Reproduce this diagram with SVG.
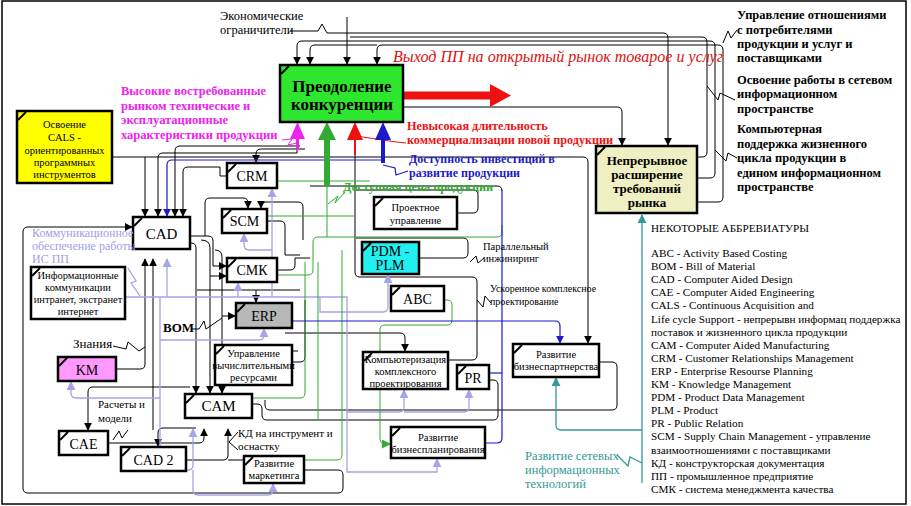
<svg xmlns="http://www.w3.org/2000/svg" width="911" height="506" viewBox="0 0 911 506">
<defs>
<style>
text{font-family:"Liberation Serif","DejaVu Serif",serif}
.b{font-weight:bold}
.c{text-anchor:middle}
.box{stroke:#000;stroke-width:2.5;fill:#fff}
.tk{stroke:#000;stroke-width:2}
.k{fill:none;stroke:#000;stroke-width:1}
.lv{fill:none;stroke:#a4a4e6;stroke-width:1.3}
.g{fill:none;stroke:#33aa33;stroke-width:1}
.bl{fill:none;stroke:#1a1acc;stroke-width:1.2}
.tl{fill:none;stroke:#339999;stroke-width:1.3}
.s10{font-size:10.5px}
.s14{font-size:14px}
.s15{font-size:15px}
.lbl{font-weight:bold}
.abr{font-size:11.2px}
</style>
<marker id="ak" viewBox="0 0 10 10" refX="9" refY="5" markerWidth="8" markerHeight="9" orient="auto" markerUnits="userSpaceOnUse"><path d="M0,0 L10,5 L0,10 z" fill="#000"/></marker>
<marker id="al" viewBox="0 0 10 10" refX="9" refY="5" markerWidth="9" markerHeight="9" orient="auto" markerUnits="userSpaceOnUse"><path d="M0,0 L10,5 L0,10 z" fill="#a4a4e6"/></marker>
<marker id="ab" viewBox="0 0 10 10" refX="9" refY="5" markerWidth="8" markerHeight="9" orient="auto" markerUnits="userSpaceOnUse"><path d="M0,0 L10,5 L0,10 z" fill="#1a1acc"/></marker>
<marker id="ag" viewBox="0 0 10 10" refX="9" refY="5" markerWidth="9" markerHeight="9" orient="auto" markerUnits="userSpaceOnUse"><path d="M0,0 L10,5 L0,10 z" fill="#33aa33"/></marker>
<marker id="at" viewBox="0 0 10 10" refX="9" refY="5" markerWidth="9" markerHeight="9" orient="auto" markerUnits="userSpaceOnUse"><path d="M0,0 L10,5 L0,10 z" fill="#339999"/></marker>
</defs>
<rect x="0" y="0" width="911" height="506" fill="#fff"/>
<rect x="2" y="1" width="904" height="503" fill="none" stroke="#000" stroke-width="1.5"/>

<g id="connectors">
<path class="k" d="M290,31 L318,31 L322,24 L327,33 L347,33"/>
<path class="k" d="M347,17 V64" marker-end="url(#ak)"/>
<path class="k" d="M347,33 H663 Q668,33 668,38 V145" marker-end="url(#ak)"/>
<path class="k" d="M350,37 H702 Q707,37 707,42 V152 Q707,157 702,157 H698"/>
<path class="k" d="M350,41 H710 Q715,41 715,46 V173 Q715,178 710,178 H698"/>
<path class="k" d="M698,202 H718 Q723,202 723,197 V50 Q723,45 718,45 H382 Q377,45 377,50 V64" marker-end="url(#ak)"/>
<path class="k" d="M350,41 H302 Q297,41 297,46 V64" marker-end="url(#ak)"/>
<path class="k" d="M377,45 H315 Q310,45 310,50 V64" marker-end="url(#ak)"/>
<path class="k" d="M403,107 H617 Q622,107 622,112 V145" marker-end="url(#ak)"/>
<path class="k" d="M723,43 L728,31 L731,38 L737,30"/>
<path class="k" d="M707,86 L718,100 L720,93 L735,100"/>
<path class="k" d="M715,150 L726,161 L728,153 L737,158"/>
<path class="k" d="M112,157 H583 Q588,157 588,162 V343" marker-end="url(#ak)"/>
<path class="k" d="M145,157 V216" marker-end="url(#ak)"/>
<path class="k" d="M297,148 V153 H163 Q158,153 158,158 V216" marker-end="url(#ak)"/>
<path class="k" d="M300,146 H180 Q175,146 175,151 V216" marker-end="url(#ak)"/>
<path class="k" d="M227,176 H220 V167 H188 Q183,167 183,172 V216" marker-end="url(#ak)"/>
<path class="k" d="M305,149 H261 Q256,149 256,154 V162" marker-end="url(#ak)"/>
<path class="k" d="M190,243 H191 Q196,243 196,248 V393" marker-end="url(#ak)"/>
<path class="k" d="M190,236 H208 Q213,236 213,241 V266 H226" marker-end="url(#ak)"/>
<path class="k" d="M201,240 Q210,240 210,248 V393" marker-end="url(#ak)"/>
<path class="k" d="M210,276 H226" marker-end="url(#ak)"/>
<path class="k" d="M215,250 Q222,250 222,257 V393" marker-end="url(#ak)"/>
<path class="k" d="M222,316 H235" marker-end="url(#ak)"/>
<path class="k" d="M205,236 V203 Q205,198 210,198 H243 Q248,198 248,203 V208" marker-end="url(#ak)"/>
<path class="k" d="M303,240 V207 Q303,202 298,202 H266 Q261,202 261,207 V208" marker-end="url(#ak)"/>
<path class="k" d="M267,221 H280 Q285,221 285,226 V255 H300"/>
<path class="k" d="M277,270 H290 Q295,270 295,265 V258 H310"/>
<path class="k" d="M197,290 H300"/>
<path class="k" d="M256,290 V302" marker-end="url(#ak)"/>
<path class="k" d="M191,329 H199 L204,321 L206,329 L222,318"/>
<path class="k" d="M292,362 H300 Q305,362 305,357 V300"/>
<path class="k" d="M228,351 H298"/>
<path class="k" d="M116,369 H140 Q145,369 145,364 V259" marker-end="url(#ak)"/>
<path class="k" d="M153,430 V259" marker-end="url(#ak)"/>
<path class="k" d="M196,428 H163 Q158,428 158,433 V446" marker-end="url(#ak)"/>
<path class="k" d="M190,387 H93 Q88,387 88,392 V430" marker-end="url(#ak)"/>
<path class="k" d="M108,443 H199 Q204,443 204,438 V429" marker-end="url(#ak)"/>
<path class="k" d="M186,460 H223 Q228,460 228,455 V429" marker-end="url(#ak)"/>
<path class="k" d="M228,460 H300"/>
<path class="k" d="M113,440 L119,431 L122,438 L128,430"/>
<path class="k" d="M238,432 L229,442 L238,450"/>
<path class="k" d="M113,346 L126,349 L128,342 L139,351 L145,347"/>
<path class="k" d="M252,404 H257 Q262,404 262,409 V415 Q262,420 267,420 H493 Q498,420 498,415 V385 Q498,380 493,380 H489"/>
<path class="k" d="M599,362 H612 Q617,362 617,367 V405 Q617,410 612,410 H270 Q265,410 265,405 V400"/>
<path class="k" d="M304,470 H338 Q343,470 343,475 V488 Q343,493 338,493 H28 Q23,493 23,488 V232 Q23,227 28,227 H132" marker-end="url(#ak)"/>
<path class="k" d="M457,213 H473 Q478,213 478,208 V195 Q478,190 473,190 H356"/>
<path class="k" d="M419,258 H463 Q468,258 468,253 V243 Q468,238 463,238 H356"/>
<path class="k" d="M355,150 V272 Q355,277 360,277 H472 Q477,277 477,282 V355 Q477,360 472,360 H448"/>
<path class="k" d="M285,333 H400 Q405,333 405,338 V351" marker-end="url(#ak)"/>
<path class="k" d="M310,186 H497 Q502,186 502,191"/>
<path class="k" d="M470,262 L476,256 L478,263 L484,258"/>
<path class="k" d="M477,300 L483,307 L485,296 L491,303"/>
<path class="lv" d="M128,268 L136,281 L131,283 L140,296"/>
<path class="lv" d="M125,297 H347 V472 H437 V459" marker-end="url(#al)"/>
<path class="lv" d="M167,297 V259" marker-end="url(#al)"/>
<path class="lv" d="M238,297 V283" marker-end="url(#al)"/>
<path class="lv" d="M272,297 V189" marker-end="url(#al)"/>
<path class="lv" d="M272,250 H249 Q244,250 244,245 V234" marker-end="url(#al)"/>
<path class="lv" d="M160,297 V470 H188 Q193,470 193,465 V429" marker-end="url(#al)"/>
<path class="lv" d="M193,470 V490 Q193,495 198,495 H268 Q273,495 273,490 V484" marker-end="url(#al)"/>
<path class="lv" d="M160,340 H259 Q264,340 264,335 V329" marker-end="url(#al)"/>
<path class="lv" d="M160,398 H76 Q71,398 71,393 V382" marker-end="url(#al)"/>
<path class="lv" d="M347,412 H399 Q404,412 404,407 V390" marker-end="url(#al)"/>
<path class="lv" d="M404,412 H464 Q469,412 469,407 V390" marker-end="url(#al)"/>
<path class="lv" d="M320,297 V312 H383 Q388,312 388,307 V275" marker-end="url(#al)"/>
<path class="g" d="M277,181 H370"/>
<path class="g" d="M267,216 H355"/>
<path class="g" d="M277,275 H308 Q313,275 313,270 V242 Q313,237 318,237 H497 Q502,237 502,232 V225"/>
<path class="g" d="M304,460 H337 Q342,460 342,455 V250"/>
<path class="g" d="M444,300 H447 Q452,300 452,305 V320 Q452,325 447,325 H385 Q380,325 380,330 V439 Q380,444 385,444 H390" marker-end="url(#ag)"/>
<path class="g" d="M252,398 H300 Q305,398 305,393 V262"/>
<path class="g" d="M318,262 V420"/>
<path class="g" d="M327,186 V237"/>
<path class="g" d="M328,204 L338,196 L335,203 L345,192"/>
<path class="bl" d="M383,160 H172 Q167,160 167,165 V216" marker-end="url(#ab)"/>
<path class="bl" d="M292,321 H555 Q560,321 560,326 V343" marker-end="url(#ab)"/>
<path class="bl" d="M485,443 H497 Q502,443 502,438 V190"/>
<path class="bl" d="M489,373 H502"/>
<path class="bl" d="M383,165 L395,168 L396,175 L408,171"/>
<path class="tl" d="M642,483 V215" marker-end="url(#at)"/>
<path class="tl" d="M642,430 H561 Q556,430 556,425 V378" marker-end="url(#at)"/>
<path class="tl" d="M617,455 L628,466 L630,457 L642,463"/>
<path d="M282,140 L292,139 L288,145 L297,143" fill="none" stroke="#ee22ee" stroke-width="1"/>
<path d="M356,136 L396,142 L406,143" fill="none" stroke="#ee1111" stroke-width="1"/>
<polygon points="403,91.5 490,91.5 490,84 511,95.5 490,107 490,99.5 403,99.5" fill="#ee1111"/>
<polygon points="296,150 296,139 290,139 297.5,122 305,139 299,139 299,150" fill="#ee22ee"/>
<polygon points="324,186 324,140 318,140 327,122 336,140 330,140 330,186" fill="#33aa33"/>
<polygon points="354,155 354,140 347,140 355,122 363,140 356,140 356,155" fill="#ee1111"/>
<polygon points="381,163 381,140 375,140 383,122 391,140 385,140 385,163" fill="#1a1acc"/>
</g>

<g id="n-konk">
<rect class="box" x="280" y="65" width="123" height="57" style="fill:#2ee62e"/>
<path class="tk" d="M281,74 L289,66"/>
<text class="b c" x="342" y="92" font-size="17">Преодоление</text>
<text class="b c" x="342" y="110" font-size="17">конкуренции</text>
</g>
<g id="n-cals">
<rect class="box" x="17" y="111" width="95" height="72" style="fill:#ffff00"/>
<path class="tk" d="M18,120 L26,112"/>
<text class="c" x="64.5" y="128" font-size="10.5">Освоение</text>
<text class="c" x="64.5" y="141" font-size="10.5">CALS -</text>
<text class="c" x="64.5" y="154" font-size="10.5">ориентированных</text>
<text class="c" x="64.5" y="166" font-size="10.5">программных</text>
<text class="c" x="64.5" y="178" font-size="10.5">инструментов</text>
</g>
<g id="n-rynok">
<rect class="box" x="596" y="146" width="101" height="67" style="fill:#efefc4"/>
<path class="tk" d="M597,155 L605,147"/>
<text class="b c" x="647" y="165" font-size="13">Непрерывное</text>
<text class="b c" x="647" y="179" font-size="13">расширение</text>
<text class="b c" x="647" y="193" font-size="13">требований</text>
<text class="b c" x="647" y="207" font-size="13">рынка</text>
</g>
<g id="n-cad">
<rect class="box" x="133" y="217" width="57" height="32"/>
<path class="tk" d="M134,226 L142,218"/>
<text class="c s15" x="161.5" y="239">CAD</text>
</g>
<g id="n-crm">
<rect class="box" x="227" y="163" width="50" height="25"/>
<path class="tk" d="M228,172 L236,164"/>
<text class="c s14" x="252" y="181">CRM</text>
</g>
<g id="n-scm">
<rect class="box" x="222" y="209" width="45" height="24"/>
<path class="tk" d="M223,218 L231,210"/>
<text class="c s14" x="244.5" y="226">SCM</text>
</g>
<g id="n-smk">
<rect class="box" x="227" y="258" width="50" height="24"/>
<path class="tk" d="M228,267 L236,259"/>
<text class="c s14" x="252" y="275">СМК</text>
</g>
<g id="n-erp">
<rect class="box" x="236" y="303" width="56" height="25" style="fill:#b8b8b8"/>
<path class="tk" d="M237,312 L245,304"/>
<text class="c s14" x="264" y="321">ERP</text>
</g>
<g id="n-upr">
<rect class="box" x="215" y="345" width="77" height="40"/>
<path class="tk" d="M216,354 L224,346"/>
<text class="c s10" x="253.5" y="357">Управление</text>
<text class="c s10" x="253.5" y="369">вычислительными</text>
<text class="c s10" x="253.5" y="381">ресурсами</text>
</g>
<g id="n-cam">
<rect class="box" x="185" y="394" width="67" height="24"/>
<path class="tk" d="M186,403 L194,395"/>
<text class="c s15" x="218.5" y="411">CAM</text>
</g>
<g id="n-km">
<rect class="box" x="58" y="357" width="58" height="24" style="fill:#ff99ff"/>
<path class="tk" d="M59,366 L67,358"/>
<text class="c s14" x="87" y="375">KM</text>
</g>
<g id="n-cae">
<rect class="box" x="59" y="431" width="49" height="24"/>
<path class="tk" d="M60,440 L68,432"/>
<text class="c s14" x="83.5" y="449">CAE</text>
</g>
<g id="n-cad2">
<rect class="box" x="121" y="447" width="65" height="24"/>
<path class="tk" d="M122,456 L130,448"/>
<text class="c s14" x="153.5" y="465">CAD 2</text>
</g>
<g id="n-mark">
<rect class="box" x="244" y="456" width="60" height="27"/>
<path class="tk" d="M245,465 L253,457"/>
<text class="c s10" x="274" y="467">Развитие</text>
<text class="c s10" x="274" y="479">маркетинга</text>
</g>
<g id="n-info">
<rect class="box" x="31" y="267" width="94" height="52"/>
<path class="tk" d="M32,276 L40,268"/>
<text class="c s10" x="78" y="279">Информационные</text>
<text class="c s10" x="78" y="291">коммуникации</text>
<text class="c s10" x="78" y="303">интранет, экстранет</text>
<text class="c s10" x="78" y="315">интернет</text>
</g>
<g id="n-proekt">
<rect class="box" x="374" y="197" width="83" height="32"/>
<path class="tk" d="M375,206 L383,198"/>
<text class="c s10" x="415.5" y="211">Проектное</text>
<text class="c s10" x="415.5" y="224">управление</text>
</g>
<g id="n-pdm">
<rect class="box" x="362" y="242" width="57" height="32" style="fill:#22f0f0"/>
<path class="tk" d="M363,251 L371,243"/>
<text class="c s14" x="390" y="256">PDM -</text>
<text class="c s14" x="390" y="270">PLM</text>
</g>
<g id="n-abc">
<rect class="box" x="391" y="286" width="53" height="25"/>
<path class="tk" d="M392,295 L400,287"/>
<text class="c s14" x="417.5" y="304">ABC</text>
</g>
<g id="n-komp">
<rect class="box" x="363" y="352" width="85" height="37"/>
<path class="tk" d="M364,361 L372,353"/>
<text class="c s10" x="405.5" y="363">Компьютеризация</text>
<text class="c s10" x="405.5" y="375">комплексного</text>
<text class="c s10" x="405.5" y="387">проектирования</text>
</g>
<g id="n-pr">
<rect class="box" x="457" y="365" width="32" height="24"/>
<path class="tk" d="M458,374 L466,366"/>
<text class="c s14" x="473" y="383">PR</text>
</g>
<g id="n-partn">
<rect class="box" x="513" y="344" width="86" height="33"/>
<path class="tk" d="M514,353 L522,345"/>
<text class="c s10" x="556" y="358">Развитие</text>
<text class="c s10" x="556" y="370">бизнеспартнерства</text>
</g>
<g id="n-plan">
<rect class="box" x="391" y="427" width="94" height="31"/>
<path class="tk" d="M392,436 L400,428"/>
<text class="c s10" x="438" y="441">Развитие</text>
<text class="c s10" x="438" y="453">бизнеспланирования</text>
</g>

<g id="labels">
<text x="220" y="20" font-size="12.5">Экономические</text>
<text x="220" y="34" font-size="12.5">ограничители</text>
<text x="393" y="62" font-size="17" font-style="italic" style="fill:#dd1111" textLength="330" lengthAdjust="spacingAndGlyphs">Выход ПП на открытый рынок товарое и услуг</text>
<g class="lbl" font-size="12.5" style="fill:#ee22ee">
<text x="121" y="95">Высокие востребованные</text>
<text x="121" y="109.5">рынком технические и</text>
<text x="121" y="124">эксплуатационные</text>
<text x="121" y="138.5">характеристики продукции</text>
</g>
<g class="lbl" font-size="12.2" style="fill:#ee1111">
<text x="407" y="130">Невысокая длительность</text>
<text x="407" y="144">коммерциализации новой продукции</text>
</g>
<g class="lbl" font-size="12" style="fill:#1a1acc">
<text x="409" y="162.5">Доступность инвестиций в</text>
<text x="409" y="176.5">развитие продукции</text>
</g>
<text class="lbl" x="343" y="191" font-size="12.2" style="fill:#33aa33">Доступная цена продукции</text>
<g class="lbl" font-size="12.5">
<text x="737" y="19">Управление отношениями</text>
<text x="737" y="33.5">с потребителями</text>
<text x="737" y="48">продукции и услуг и</text>
<text x="737" y="62">поставщиками</text>
<text x="737" y="84">Освоение работы в сетевом</text>
<text x="737" y="98">информационном</text>
<text x="737" y="112.5">пространстве</text>
<text x="737" y="133">Компьютерная</text>
<text x="737" y="147.5">поддержка жизненного</text>
<text x="737" y="162">цикла продукции в</text>
<text x="737" y="176.5">едином информационном</text>
<text x="737" y="191">пространстве</text>
</g>
<g font-size="12" style="fill:#a0a0e6">
<text x="32" y="237">Коммуникационное</text>
<text x="32" y="250">обеспечение работы</text>
<text x="32" y="263">ИС ПП</text>
</g>
<g font-size="12.5" style="fill:#339999">
<text x="525" y="460">Развитие сетевых</text>
<text x="525" y="474">информационных</text>
<text x="525" y="488">технологий</text>
</g>
<text x="73" y="348" font-size="13">Знания</text>
<text x="98" y="408" font-size="11">Расчеты и</text>
<text x="98" y="422" font-size="11">модели</text>
<text x="238" y="437" font-size="11">КД на инструмент и</text>
<text x="238" y="450" font-size="11">оснастку</text>
<text class="b" x="163" y="332" font-size="13">BOM</text>
<text x="483" y="250" font-size="10.5">Параллельный</text>
<text x="483" y="262" font-size="10.5">инжиниринг</text>
<text x="490" y="292" font-size="10">Ускоренное комплексное</text>
<text x="490" y="305" font-size="10">проектирование</text>
</g>

<g id="abbreviations" class="abr">
<text x="651" y="232">НЕКОТОРЫЕ АББРЕВИАТУРЫ</text>
<text x="651" y="257">ABC - Activity Based Costing</text>
<text x="651" y="270.1">BOM - Bill of Material</text>
<text x="651" y="283.2">CAD - Computer Aided Design</text>
<text x="651" y="296.3">CAE - Computer Aided Engineering</text>
<text x="651" y="309.4">CALS - Continuous Acquisition and</text>
<text x="651" y="322.5">Life cycle Support - непрерывн информац поддержка</text>
<text x="651" y="335.6">поставок и жизненного цикла продукции</text>
<text x="651" y="348.7">CAM - Computer Aided Manufacturing</text>
<text x="651" y="361.8">CRM - Customer Relationships Management</text>
<text x="651" y="374.9">ERP - Enterprise Resourse Planning</text>
<text x="651" y="388">KM - Knowledge Management</text>
<text x="651" y="401.1">PDM - Product Data Management</text>
<text x="651" y="414.2">PLM - Product</text>
<text x="651" y="427.3">PR - Public Relation</text>
<text x="651" y="440.4">SCM - Supply Chain Management - управление</text>
<text x="651" y="453.5">взаимоотношениями с поставщиками</text>
<text x="651" y="466.6">КД - конструкторская документация</text>
<text x="651" y="479.7">ПП - промышленное предприятие</text>
<text x="651" y="492.8">СМК - система менеджмента качества</text>
</g>
</svg>
